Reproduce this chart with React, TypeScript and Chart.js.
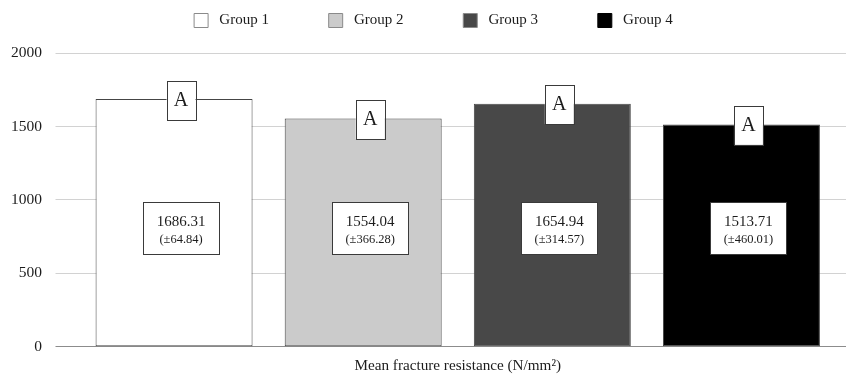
import { useEffect, useRef } from 'react';
import { Chart, registerables } from 'chart.js';

Chart.register(...registerables);

const groups = ['Group 1', 'Group 2', 'Group 3', 'Group 4'];
const means = [1686.31, 1554.04, 1654.94, 1513.71];
const sds = [64.84, 366.28, 314.57, 460.01];
const letters = ['A', 'A', 'A', 'A'];
const fills = ['#ffffff', '#cbcbcb', '#484848', '#000000'];
const yMin = 0;
const yMax = 2000;
const yStep = 500;
const axisTitle = 'Mean fracture resistance (N/mm²)';
const meanBoxAnchor = 806;

const FONT = '"Liberation Serif", "Times New Roman", serif';
const TEXT = '#1c1c1c';
const BOX_SHIFT = 7;

const gridColor = (ctx: any) => (ctx.tick && ctx.tick.value === 0 ? '#8c8c8c' : '#d2d2d2');

const legendGap = {
  id: 'legendGap',
  beforeInit(chart: any) {
    const legend = chart.legend;
    if (!legend) return;
    const orig = legend.fit;
    legend.fit = function () {
      orig.call(this);
      this.height += 15;
    };
  },
};

const groupBoxes = {
  id: 'groupBoxes',
  afterDatasetsDraw(chart: any) {
    const ctx = chart.ctx;
    const yScale = chart.scales.y;
    const drawBox = (x: number, y: number, w: number, h: number) => {
      ctx.save();
      ctx.fillStyle = '#ffffff';
      ctx.strokeStyle = '#3a3a3a';
      ctx.lineWidth = 1;
      ctx.fillRect(x, y, w, h);
      ctx.strokeRect(Math.round(x) + 0.5, Math.round(y) + 0.5, Math.round(w), Math.round(h));
      ctx.restore();
    };
    chart.data.datasets.forEach((_ds: any, i: number) => {
      const meta = chart.getDatasetMeta(i);
      const bar = meta.data[i];
      if (!bar) return;
      const cx = bar.x + BOX_SHIFT;
      const top = bar.y;
      drawBox(cx - 14.5, top - 18.5, 29, 39);
      ctx.save();
      ctx.fillStyle = TEXT;
      ctx.textAlign = 'center';
      ctx.textBaseline = 'middle';
      ctx.font = `20px ${FONT}`;
      ctx.fillText(letters[i], cx, top + 1.5);
      ctx.restore();
      const vy = yScale.getPixelForValue(meanBoxAnchor);
      drawBox(cx - 38, vy - 26, 76, 52);
      ctx.save();
      ctx.fillStyle = TEXT;
      ctx.textAlign = 'center';
      ctx.textBaseline = 'middle';
      ctx.font = `15px ${FONT}`;
      ctx.fillText(means[i].toFixed(2), cx, vy - 6);
      ctx.font = `12.5px ${FONT}`;
      ctx.fillText(`(±${sds[i].toFixed(2)})`, cx, vy + 11);
      ctx.restore();
    });
  },
};

export default function App() {
  const canvasRef = useRef<HTMLCanvasElement | null>(null);

  useEffect(() => {
    document.body.style.margin = '0';
    const canvas = canvasRef.current;
    if (!canvas) return;

    const datasets = groups.map((g, i) => ({
      label: g,
      data: groups.map((_, j) => (j === i ? means[i] : null)),
      backgroundColor: fills[i],
      borderColor: '#454545',
      borderWidth: 1,
      borderSkipped: false,
      skipNull: true,
      categoryPercentage: 1,
      barPercentage: 0.83,
    }));

    const chart = new Chart(canvas, {
      type: 'bar',
      data: { labels: groups, datasets: datasets as any },
      options: {
        responsive: false,
        maintainAspectRatio: false,
        animation: false,
        layout: { padding: { left: 10, right: 0, top: 2, bottom: 0 } },
        plugins: {
          tooltip: { enabled: false },
          legend: {
            position: 'top',
            align: 'center',
            fullSize: false,
            labels: {
              boxWidth: 14,
              boxHeight: 14,
              padding: 11,
              color: TEXT,
              font: { family: FONT, size: 15 },
              generateLabels: (c: any) => {
                const items = (Chart.defaults.plugins.legend.labels as any).generateLabels(c);
                return items.map((it: any, i: number) => ({
                  ...it,
                  text: ' ' + it.text + ' '.repeat(13),
                  strokeStyle: i === 3 ? '#000000' : '#8a8a8a',
                  lineWidth: 1,
                }));
              },
            },
          },
        },
        scales: {
          x: {
            ticks: { display: false },
            grid: { display: false, drawTicks: false, tickLength: 0 },
            border: { display: false },
            title: {
              display: true,
              text: axisTitle,
              color: TEXT,
              font: { family: FONT, size: 15.2 },
              padding: { top: 10, bottom: 0 },
            },
          },
          y: {
            position: 'left',
            min: yMin,
            max: yMax,
            ticks: {
              stepSize: yStep,
              padding: 13.5,
              color: TEXT,
              font: { family: FONT, size: 15.5 },
              callback: (v: any) => String(v),
            },
            grid: { color: gridColor, tickLength: 24, lineWidth: 1 },
            border: { display: false },
            afterFit: (s: any) => {
              s.width = 69.5;
            },
          },
          yRight: {
            position: 'right',
            min: yMin,
            max: yMax,
            ticks: { stepSize: yStep, display: false },
            grid: { color: gridColor, drawOnChartArea: false, tickLength: 10, lineWidth: 1 },
            border: { display: false },
            afterFit: (s: any) => {
              s.width = 10;
            },
          },
        },
      } as any,
      plugins: [legendGap, groupBoxes],
    });

    return () => chart.destroy();
  }, []);

  return (
    <div style={{ position: 'absolute', left: 0, top: 0, width: 846, height: 375 }}>
      <canvas ref={canvasRef} width={846} height={375} style={{ display: 'block' }} />
    </div>
  );
}
